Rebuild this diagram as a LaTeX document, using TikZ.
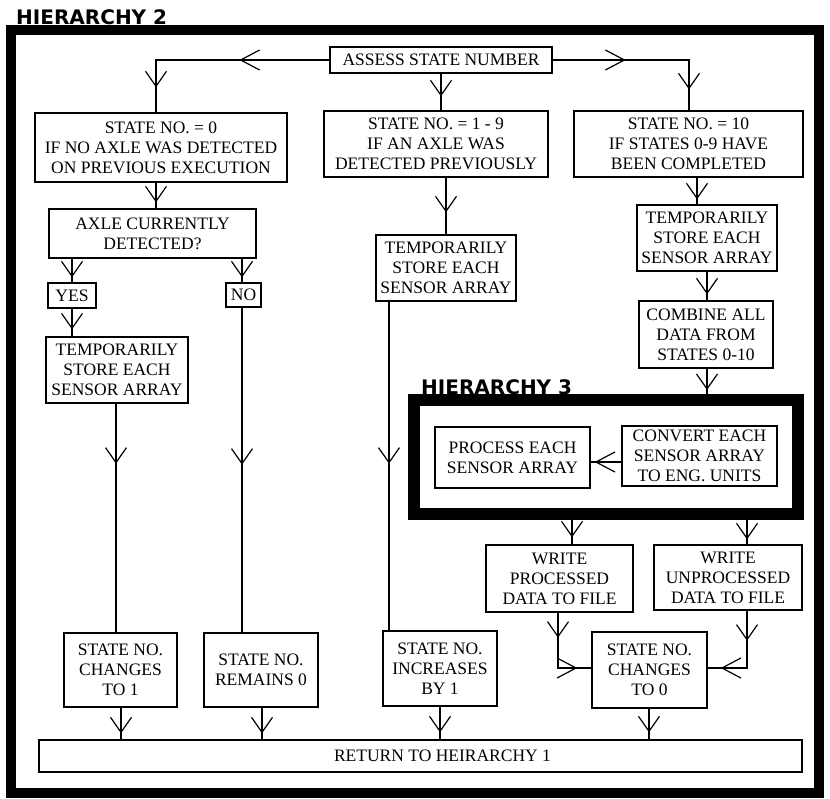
\documentclass[tikz,border=0pt]{standalone}
\usepackage{fontspec}
\setmainfont{Liberation Serif}
\newfontfamily\hfont{DejaVu Sans}
\usetikzlibrary{arrows.meta,decorations.markings}
\begin{document}
\begin{tikzpicture}[x=1pt,y=-1pt,
  font=\fontsize{17.5}{20}\selectfont,
  box/.style={draw, line width=1.3pt, align=center, inner sep=0pt},
  conn/.style={line width=1.2pt},
  arrv/.style={postaction={decorate,decoration={markings,mark=at position #1 with {\arrow{Straight Barb[length=15pt,width=21pt]}}}}},
  arrh/.style={postaction={decorate,decoration={markings,mark=at position #1 with {\arrow{Straight Barb[length=19pt,width=20pt]}}}}},
  htitle/.style={font=\hfont\bfseries\fontsize{20}{20}\selectfont, inner sep=0pt, anchor=base west},
  frame/.style={draw, line width=#1, inner sep=0pt}
]
\useasboundingbox (0,0) rectangle (830,798);

% frames and titles
\node[frame=10pt, minimum width=807.5pt, minimum height=763pt] (h2) at (414.75,411.5) {};
\node[htitle] (t2title) at (16,24) {HIERARCHY 2};
\node[frame=12pt, minimum width=384pt, minimum height=114pt] (h3) at (605.5,457) {};
\node[htitle] (t3title) at (421,394) {HIERARCHY 3};

% boxes
\node[box, minimum width=222pt, minimum height=26pt] (assess) at (441,60) {ASSESS STATE NUMBER};
\node[box, minimum width=252pt, minimum height=69pt] (s0) at (161,147.5) {STATE NO. = 0\\IF NO AXLE WAS DETECTED\\ON PREVIOUS EXECUTION};
\node[box, minimum width=224pt, minimum height=66pt] (s19) at (436,144) {STATE NO. = 1 - 9\\IF AN AXLE WAS\\DETECTED PREVIOUSLY};
\node[box, minimum width=229pt, minimum height=66pt] (s10) at (688.5,144) {STATE NO. = 10\\IF STATES 0-9 HAVE\\BEEN COMPLETED};
\node[box, minimum width=207pt, minimum height=49pt] (axle) at (152.5,233.5) {AXLE CURRENTLY\\DETECTED?};
\node[box, minimum width=48pt, minimum height=25pt] (yes) at (72,295.5) {YES};
\node[box, minimum width=35pt, minimum height=24pt] (no) at (243.5,295) {NO};
\node[box, minimum width=142pt, minimum height=66pt] (t1) at (117,370) {TEMPORARILY\\STORE EACH\\SENSOR ARRAY};
\node[box, minimum width=140pt, minimum height=66pt] (t2) at (446,268) {TEMPORARILY\\STORE EACH\\SENSOR ARRAY};
\node[box, minimum width=140pt, minimum height=66pt] (t3) at (707,238) {TEMPORARILY\\STORE EACH\\SENSOR ARRAY};
\node[box, minimum width=134pt, minimum height=67pt] (comb) at (706,334.5) {COMBINE ALL\\DATA FROM\\STATES 0-10};
\node[box, minimum width=155pt, minimum height=61pt] (proc) at (512.5,457.5) {PROCESS EACH\\SENSOR ARRAY};
\node[box, minimum width=155pt, minimum height=60pt] (conv) at (699.5,456) {CONVERT EACH\\SENSOR ARRAY\\TO ENG. UNITS};
\node[box, minimum width=147pt, minimum height=67pt] (wp) at (559.5,578.5) {WRITE\\PROCESSED\\DATA TO FILE};
\node[box, minimum width=148pt, minimum height=65pt] (wu) at (728,577.5) {WRITE\\UNPROCESSED\\DATA TO FILE};
\node[box, minimum width=113pt, minimum height=74pt] (ch1) at (120.5,670) {STATE NO.\\CHANGES\\TO 1};
\node[box, minimum width=114pt, minimum height=74pt] (rem) at (261,670) {STATE NO.\\REMAINS 0};
\node[box, minimum width=114pt, minimum height=75pt] (inc) at (440,668.5) {STATE NO.\\INCREASES\\BY 1};
\node[box, minimum width=115pt, minimum height=76pt] (ch0) at (649.5,670) {STATE NO.\\CHANGES\\TO 0};
\node[box, minimum width=763pt, minimum height=32pt] (ret) at (420.5,756) {\hspace*{44pt}RETURN TO HEIRARCHY 1};

% column / row coordinates
\coordinate (cA) at (156,0);
\coordinate (cB) at (441,0);
\coordinate (cC) at (689,0);
\coordinate (cD) at (72,0);
\coordinate (cE) at (242,0);
\coordinate (cF) at (116,0);
\coordinate (cG) at (446,0);
\coordinate (cH) at (389,0);
\coordinate (cI) at (697,0);
\coordinate (cJ) at (707,0);
\coordinate (cK) at (572,0);
\coordinate (cL) at (747,0);
\coordinate (cM) at (558,0);
\coordinate (cN) at (121,0);
\coordinate (cO) at (262,0);
\coordinate (cP) at (440,0);
\coordinate (cQ) at (649,0);
\coordinate (rA) at (0,462);
\coordinate (rB) at (0,668);

% connectors
\draw[conn, arrh=90pt, arrv=-25pt] (assess.west) -| (s0.north -| cA);
\draw[conn, arrv=-14pt] (assess.south -| cB) -- (s19.north -| cB);
\draw[conn, arrh=73pt, arrv=-21pt] (assess.east) -| (s10.north -| cC);
\draw[conn, arrv=-6pt] (s0.south -| cA) -- (axle.north -| cA);
\draw[conn, arrv=-5pt] (axle.south -| cD) -- (yes.north -| cD);
\draw[conn, arrv=-5pt] (axle.south -| cE) -- (no.north -| cE);
\draw[conn, arrv=-7pt] (yes.south -| cD) -- (t1.north -| cD);
\draw[conn, arrv=60pt] (t1.south -| cF) -- (ch1.north -| cF);
\draw[conn, arrv=157pt] (no.south -| cE) -- (rem.north -| cE);
\draw[conn, arrv=-22pt] (s19.south -| cG) -- (t2.north -| cG);
\draw[conn, arrv=162pt] (t2.south -| cH) -- (inc.north -| cH);
\draw[conn, arrv=-5pt] (s10.south -| cI) -- (t3.north -| cI);
\draw[conn, arrv=-6pt] (t3.south -| cJ) -- (comb.north -| cJ);
\draw[conn, arrv=-4pt] (comb.south -| cJ) -- (h3.north -| cJ);
\draw[conn, arrh=-4pt] (conv.west |- rA) -- (proc.east |- rA);
\draw[conn, arrv=-7pt] (h3.south -| cK) -- (wp.north -| cK);
\draw[conn, arrv=-5pt] (h3.south -| cL) -- (wu.north -| cL);
\draw[conn, arrv=25pt, arrh=-14pt] (wp.south -| cM) |- (ch0.west |- rB);
\draw[conn, arrv=30pt, arrh=-13pt] (wu.south -| cL) |- (ch0.east |- rB);
\draw[conn, arrv=-6pt] (ch1.south -| cN) -- (ret.north -| cN);
\draw[conn, arrv=-6pt] (rem.south -| cO) -- (ret.north -| cO);
\draw[conn, arrv=-7pt] (inc.south -| cP) -- (ret.north -| cP);
\draw[conn, arrv=-7pt] (ch0.south -| cQ) -- (ret.north -| cQ);
\end{tikzpicture}
\end{document}
